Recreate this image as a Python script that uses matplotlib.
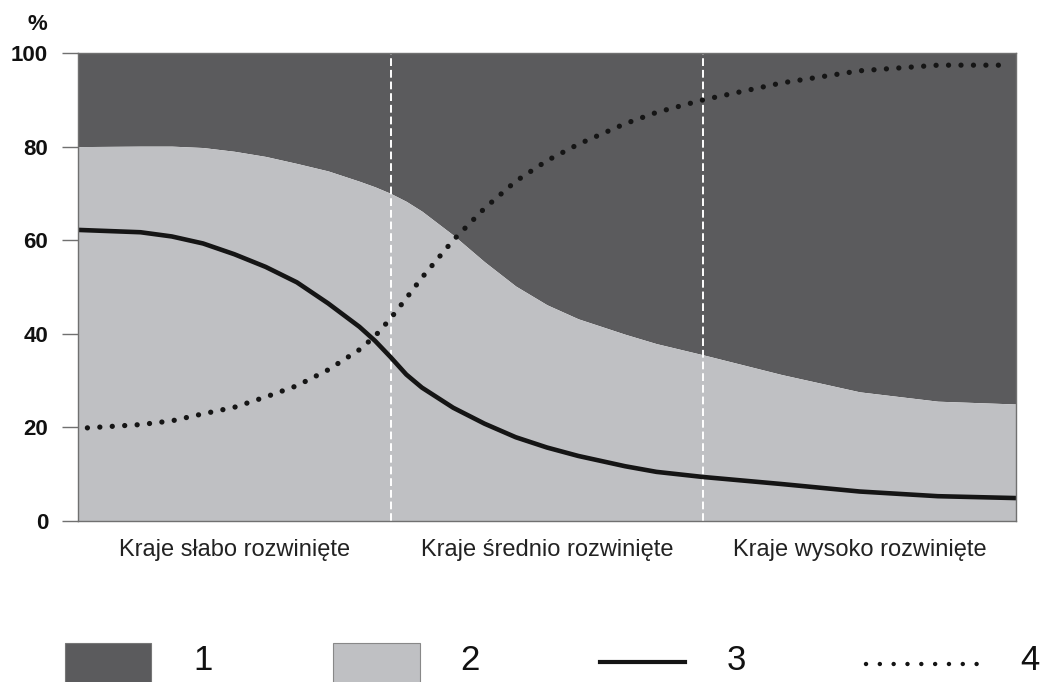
import matplotlib

matplotlib.use("Agg")
import matplotlib.pyplot as plt
from matplotlib.patches import Rectangle
from matplotlib.lines import Line2D
from matplotlib import font_manager

# position along the development axis: 0-1 weak, 1-2 medium, 2-3 high
x_pos = [0.0, 0.2, 0.3, 0.4, 0.5, 0.6, 0.7, 0.8, 0.9, 0.95, 1.0, 1.05, 1.1, 1.2, 1.3,
         1.4, 1.5, 1.6, 1.75, 1.85, 2.0, 2.25, 2.5, 2.75, 3.0]

# top edge of area 2 (light grey); area 1 (dark) fills up to 100
boundary = [80, 80.1, 80.1, 79.8, 79, 77.9, 76.4, 74.8, 72.6, 71.4, 70, 68.3, 66.2, 61.1, 55.4,
            50.2, 46.2, 43.2, 39.9, 37.9, 35.5, 31.3, 27.6, 25.6, 25]
# series 3 (solid line)
solid = [62.2, 61.7, 60.8, 59.3, 57, 54.3, 51, 46.5, 41.5, 38.5, 35, 31.3, 28.5, 24.2, 20.8,
         17.9, 15.7, 13.9, 11.7, 10.5, 9.4, 7.9, 6.3, 5.3, 4.9]
# series 4 (dotted line), starts and ends a touch inside the frame
dotted_x = [0.03] + x_pos[1:-1] + [2.98]
dotted = [19.9, 20.6, 21.4, 22.9, 24.3, 26.5, 28.9, 32.3, 36.6, 39.5, 43.3, 47.6, 52, 60, 66.8,
          72.6, 77, 80.5, 84.9, 87.3, 90, 93.6, 96.2, 97.4, 97.4]

groups = ["Kraje słabo rozwinięte", "Kraje średnio rozwinięte", "Kraje wysoko rozwinięte"]
group_centers = [0.5, 1.5, 2.5]
group_edges = [1, 2]
y_ticks = [0, 20, 40, 60, 80, 100]
legend_labels = ["1", "2", "3", "4"]

DARK = "#5b5b5d"
LIGHT = "#bfc0c3"
SPINE = "#707070"
INK = "#151515"

plt.rcParams["font.family"] = ["Liberation Sans", "DejaVu Sans"]
names = {f.name for f in font_manager.fontManager.ttflist}
narrow = "Liberation Sans Narrow" if "Liberation Sans Narrow" in names else "Liberation Sans"

W, H = 1040, 682
fig = plt.figure(figsize=(W / 100, H / 100), dpi=100)
ax = fig.add_axes([78 / W, 1 - 521 / H, (1016 - 78) / W, (521 - 53) / H])

ax.fill_between(x_pos, boundary, 100, color=DARK, linewidth=0)
ax.fill_between(x_pos, 0, boundary, color=LIGHT, linewidth=0)
for e in group_edges:
    ax.axvline(e, color="white", lw=1.4, ls=(0, (4, 2)))
ax.plot(x_pos, solid, color=INK, lw=3.3, solid_capstyle="butt", solid_joinstyle="round")
ax.plot(dotted_x, dotted, color=INK, lw=3.8, ls=(0, (0.01, 2.35)), dash_capstyle="round")

ax.set_xlim(0, 3)
ax.set_ylim(0, 100)
ax.set_yticks(y_ticks)
ax.set_xticks(group_centers)
ax.set_xticklabels(groups, fontsize=17, color="#222222")
ax.tick_params(axis="x", length=0, pad=13)
ax.tick_params(axis="y", length=11.5, width=1, color=SPINE, pad=10, labelsize=16, labelcolor="#111111")
for lbl in ax.get_yticklabels():
    lbl.set_fontweight("bold")
for s in ax.spines.values():
    s.set_color(SPINE)
    s.set_linewidth(1)
fig.text(37 / W, 1 - 25 / H, "%", fontsize=16, fontweight="bold", ha="center", va="center", color="#111111")

# legend row along the bottom edge
lg = fig.add_axes([0, 0, 1, 100 / H])
lg.set_xlim(0, W)
lg.set_ylim(H, H - 100)
lg.axis("off")
lg.add_patch(Rectangle((65, 643), 86, 50, facecolor=DARK, edgecolor="#777777", lw=0.8))
lg.add_patch(Rectangle((333, 643), 87, 50, facecolor=LIGHT, edgecolor="#888888", lw=0.8))
lg.add_line(Line2D([600, 685], [662, 662], color=INK, lw=3.0))
lg.add_line(Line2D([866, 977], [664, 664], color=INK, lw=3.2, ls=(0, (0.01, 3.1)), dash_capstyle="round"))
for xc, lab in zip([203, 470, 736, 1030], legend_labels):
    lg.text(xc, 660, lab, fontsize=25, family=narrow, ha="center", va="center", color="#111111")

fig.savefig("out.png", dpi=100)
